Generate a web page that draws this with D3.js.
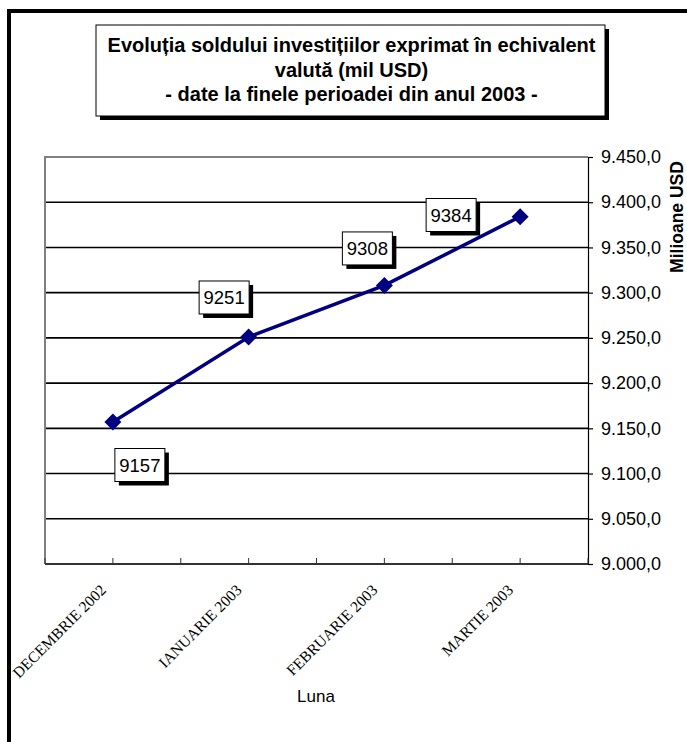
<!DOCTYPE html>
<html>
<head>
<meta charset="utf-8">
<script src="https://cdn.jsdelivr.net/npm/d3@7"></script>
<style>
  html, body { margin: 0; padding: 0; background: #fff; }
  svg { display: block; }
</style>
</head>
<body>
<svg id="chart" width="687" height="742"></svg>
<script>
// ---- data ----
const categories = ["DECEMBRIE 2002", "IANUARIE 2003", "FEBRUARIE 2003", "MARTIE 2003"];
const values = [9157, 9251, 9308, 9384];
const yTicks = [9000, 9050, 9100, 9150, 9200, 9250, 9300, 9350, 9400, 9450];
const titleLines = [
  "Evoluția soldului investițiilor exprimat în echivalent",
  "valută (mil USD)",
  "- date la finele perioadei din anul 2003 -"
];
const yAxisTitle = "Milioane USD";
const xAxisTitle = "Luna";
// manual data-label placement (layout, px offset of box centre from point)
const labelOffsets = [[27, 43], [-24.5, -39.5], [-17, -37], [-69, -1.7]];

// ---- layout ----
const svg = d3.select("#chart");
const plot = { left: 45, right: 588, top: 157, bottom: 564 };
const ro = d3.formatLocale({ decimal: ",", thousands: ".", grouping: [3], currency: ["", ""] });
const fmt = ro.format(",.1f");
const SANS = "Arial, 'Liberation Sans', sans-serif";

// outer frame
svg.append("rect").attr("x", 9).attr("y", 11).attr("width", 800).attr("height", 800)
  .attr("fill", "none").attr("stroke", "#000").attr("stroke-width", 4);

// title box
const tb = { x: 96, y: 25, w: 509, h: 91 };
svg.append("rect").attr("x", tb.x + 4).attr("y", tb.y + 4).attr("width", tb.w).attr("height", tb.h).attr("fill", "#000");
svg.append("rect").attr("x", tb.x).attr("y", tb.y).attr("width", tb.w).attr("height", tb.h)
  .attr("fill", "#fff").attr("stroke", "#000").attr("stroke-width", 1);
svg.append("g").selectAll("text").data(titleLines).join("text")
  .attr("x", tb.x + tb.w / 2 + 1).attr("y", (d, i) => 52 + i * 24.5)
  .attr("text-anchor", "middle")
  .attr("font-family", SANS)
  .attr("font-weight", "bold").attr("font-size", 20)
  .text(d => d);

// scales
const x = d3.scaleBand().domain(categories).range([plot.left, plot.right]);
const y = d3.scaleLinear().domain([9000, 9450]).range([plot.bottom, plot.top]);
const cx = d => x(d) + x.bandwidth() / 2;

// gridlines
svg.append("g").selectAll("line").data(yTicks.filter(t => t > 9000 && t < 9450)).join("line")
  .attr("x1", plot.left).attr("x2", plot.right)
  .attr("y1", d => y(d)).attr("y2", d => y(d))
  .attr("stroke", "#000").attr("stroke-width", 1.6);

// plot border (gray) left & top
svg.append("path")
  .attr("d", `M${plot.left},${plot.bottom}V${plot.top}H${plot.right}`)
  .attr("fill", "none").attr("stroke", "#808080").attr("stroke-width", 2);

// y axis on right
const yAxis = d3.axisRight(y).tickValues(yTicks).tickSize(5).tickPadding(8).tickFormat(fmt);
const gy = svg.append("g").attr("transform", `translate(${plot.right},0)`).call(yAxis);
gy.select(".domain").attr("stroke", "#000").attr("stroke-width", 1.2);
gy.selectAll(".tick line").attr("stroke", "#000").attr("stroke-width", 1.2);
gy.selectAll(".tick text").attr("font-family", SANS)
  .attr("font-size", 18).attr("fill", "#000");

// x axis bottom with ticks at every half band
const halfTicks = d3.range(0, 9).map(i => plot.left + i * x.bandwidth() / 2);
svg.append("line").attr("x1", plot.left).attr("x2", plot.right)
  .attr("y1", plot.bottom).attr("y2", plot.bottom)
  .attr("stroke", "#333").attr("stroke-width", 2);
svg.append("g").selectAll("line").data(halfTicks).join("line")
  .attr("x1", d => d).attr("x2", d => d)
  .attr("y1", plot.bottom).attr("y2", plot.bottom - 6)
  .attr("stroke", "#333").attr("stroke-width", 1);

// category labels
svg.append("g").selectAll("text").data(categories).join("text")
  .attr("transform", d => `translate(${cx(d) - 6},${plot.bottom + 27}) rotate(-45)`)
  .attr("text-anchor", "end")
  .attr("font-family", "'Times New Roman', 'Liberation Serif', serif")
  .attr("font-size", 15.5)
  .text(d => d);

// axis titles
svg.append("text").attr("x", 316).attr("y", 702).attr("text-anchor", "middle")
  .attr("font-family", SANS).attr("font-size", 17)
  .text(xAxisTitle);
svg.append("text").attr("transform", "translate(683,217) rotate(-90)")
  .attr("text-anchor", "middle")
  .attr("font-family", SANS)
  .attr("font-weight", "bold").attr("font-size", 17.5)
  .text(yAxisTitle);

// line
const pts = categories.map((c, i) => ({ c, v: values[i], i }));
svg.append("path").datum(pts)
  .attr("d", d3.line().x(d => cx(d.c)).y(d => y(d.v)))
  .attr("fill", "none").attr("stroke", "#000080").attr("stroke-width", 3.5);

// markers
svg.append("g").selectAll("path").data(pts).join("path")
  .attr("d", d3.symbol(d3.symbolSquare, 144))
  .attr("transform", d => `translate(${cx(d.c)},${y(d.v)}) rotate(45)`)
  .attr("fill", "#000080");

// data labels
const bw = 50, bh = 33;
const lab = svg.append("g").selectAll("g").data(pts).join("g")
  .attr("transform", d => `translate(${cx(d.c) + labelOffsets[d.i][0] - bw / 2},${y(d.v) + labelOffsets[d.i][1] - bh / 2})`);
lab.append("rect").attr("x", 4).attr("y", 4).attr("width", bw).attr("height", bh).attr("fill", "#000");
lab.append("rect").attr("width", bw).attr("height", bh).attr("fill", "#fff").attr("stroke", "#000").attr("stroke-width", 1);
lab.append("text").attr("x", bw / 2).attr("y", bh / 2).attr("dy", "0.36em")
  .attr("text-anchor", "middle")
  .attr("font-family", SANS).attr("font-size", 18.5)
  .text(d => d.v);
</script>
</body>
</html>
